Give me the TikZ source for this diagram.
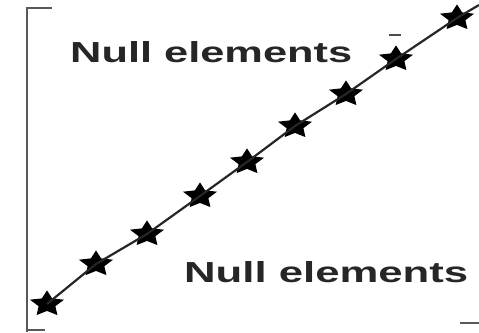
\documentclass[tikz,border=0pt]{standalone}
\usepackage{fontspec}
\setmainfont{Liberation Sans}
\usetikzlibrary{shapes.geometric}
\begin{document}
\begin{tikzpicture}[x=1pt,y=-1pt,
  starmark/.style={star, star points=5, star point ratio=2.0, fill=black, draw=black, line width=1.2pt,
    minimum size=25pt, inner sep=0pt, xscale=1.3, transform shape},
  bracket/.style={draw=black!65, line width=2.8pt},
  link/.style={draw=black!85, line width=2.2pt},
  label/.style={inner sep=0pt, anchor=base west, text=black!85}]
\useasboundingbox (0,0) rectangle (479,332);
% left bracket
\coordinate (bt) at (52,8);
\coordinate (bc) at (27,8);
\coordinate (bb) at (27,332);
\draw[bracket] (bt) -- (bc) -- (bb);
\coordinate (bbl) at (27,330);
\coordinate (bbr) at (45,330);
\draw[bracket] (bbl) -- (bbr);
% right bracket remnants
\coordinate (rt1) at (460,323);
\coordinate (rt2) at (479,323);
\draw[bracket] (rt1) -- (rt2);
\coordinate (dash1) at (389,35);
\coordinate (dash2) at (401,35);
\draw[draw=black!70, line width=1.5pt] (dash1) -- (dash2);
% stars
\node[starmark] (s1) at (47,304) {};
\node[starmark] (s2) at (96,264) {};
\node[starmark] (s3) at (147,234) {};
\node[starmark] (s4) at (200,196) {};
\node[starmark] (s5) at (247,162) {};
\node[starmark] (s6) at (295,126) {};
\node[starmark] (s7) at (346,94) {};
\node[starmark] (s8) at (396,59) {};
\node[starmark] (s9) at (457,18) {};
\coordinate (end) at (479,5);
\draw[link] (s1.center) -- (s2.center) -- (s3.center) -- (s4.center) -- (s5.center) -- (s6.center) -- (s7.center) -- (s8.center) -- (s9.center) -- (end);
% labels
\node[label] (t1) at (70,62) {\resizebox{282pt}{21pt}{\bfseries Null elements}};
\node[label] (t2) at (184,282) {\resizebox{284pt}{21pt}{\bfseries Null elements}};
\end{tikzpicture}
\end{document}
